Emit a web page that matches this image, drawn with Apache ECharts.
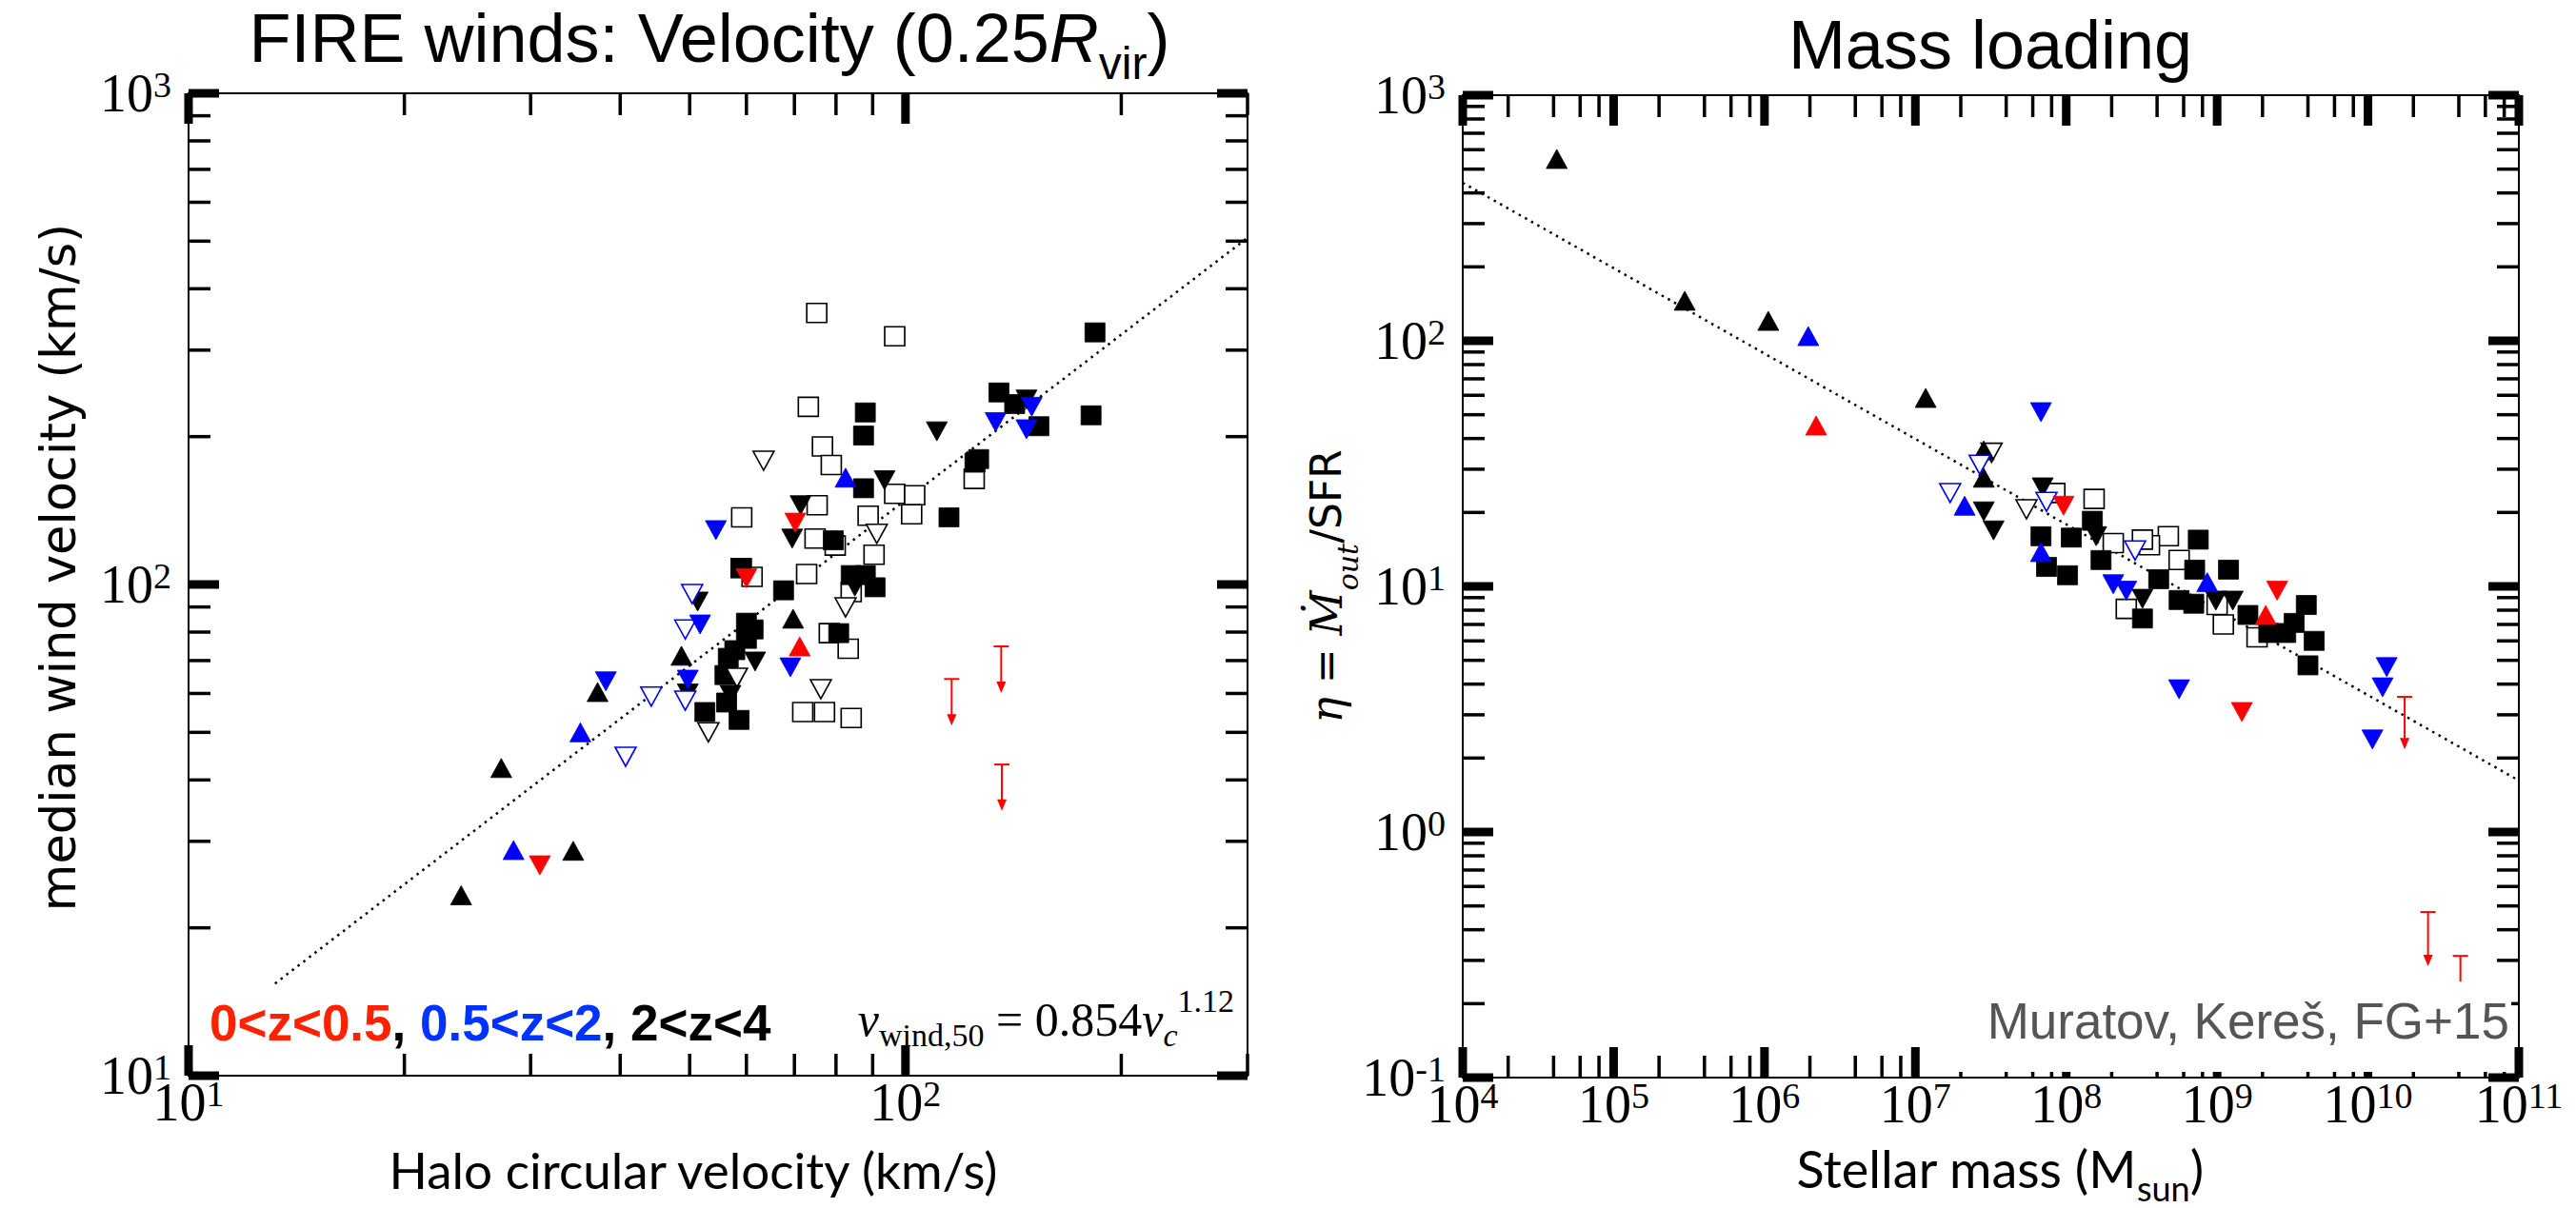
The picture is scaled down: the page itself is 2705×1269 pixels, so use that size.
<!DOCTYPE html>
<html><head><meta charset="utf-8">
<script src="https://cdn.jsdelivr.net/npm/echarts/dist/echarts.min.js"></script>
<style>html,body{margin:0;padding:0;background:#fff;overflow:hidden}#c{width:2705px;height:1269px}</style>
</head><body><div id="c"></div>
<script>
// ---------------- DATA ----------------
// Left panel: halo circular velocity (km/s) vs median wind velocity (km/s)
const velBlackSqOpen = [[75.2,357],[96.6,320],[73.2,230],[76.6,191],[78.8,175],[124.7,164],[96.6,153],[103,152],[75.3,145],[59.1,137],[88.7,138],[102,139],[74.8,124],[79.8,120],[90.4,115],[72.8,105],[59,108],[61.1,103.6],[84,96.5],[78.3,79.6],[83.2,74],[71.9,55],[77.1,55],[84,53.5]];
const velBlackSq = [[183.8,326],[181.5,221],[135,246],[142,233],[153.5,210],[87.9,224],[87.4,201],[126.5,180],[125,177],[87.4,157],[115,137],[79.3,123],[59,108],[67.6,97.3],[84,104.5],[87.9,104.5],[90.7,98.7],[60,83.6],[61.3,81],[60,77.5],[57.8,73.5],[56.6,70.9],[56,65.4],[56.3,57.5],[52.5,55],[58.6,53],[80.7,79.6]];
const velBlackDown = [[110.6,205],[93.5,163],[71.4,145],[69.5,124],[147.5,238],[61.7,69.7],[57,59.6],[51.3,92.3],[49.7,60],[85,99]];
const velBlackDownOpen = [[63.4,178.6],[91.2,126.8],[76.2,61.2],[53.1,50],[82.5,89.8],[58.2,64.6]];
const velBlackUp = [[69.7,85.2],[48.7,71.6],[37.2,60.4],[27.3,42.3],[34.4,28.7],[24,23.3]];
const velBlueDown = [[133.6,214],[150,230],[147.5,207],[54.4,129],[51.7,82.9],[69.1,67.8],[38.2,63.5],[49.7,64]];
const velBlueUp = [[82.5,165],[35.2,50],[28.4,28.8]];
const velBlueDownOpen = [[50.4,95.6],[49.3,81],[44.2,59.1],[49.3,58],[40.7,44.6]];
const velRedDown = [[70.2,133.6],[60,103],[30.9,26.8]];
const velRedUp = [[71.2,74.8]];
// upper limits: [x, top of bar, arrow tip, has arrow head]
const velRedLimits = [[116,64.2,51.6,1],[136,74.8,60.1,1],[136.3,43,34.6,1]];
// dotted fit v_wind,50 = 0.854 v_c^1.12 (end points)
const velFit = [[13.2,15.4],[300,508]];

// Right panel: stellar mass (Msun) vs mass loading eta
const mlBlackSqOpen = [[8.4e7,24],[1.53e8,22.7],[4.75e8,16],[3.56e8,14.7],[5.6e8,12.8],[2.05e8,15],[3.2e8,15.5],[1.1e9,7.0],[1.84e9,6.2],[2.5e8,8.1],[1.0e9,8.4]];
const mlBlackSq = [[6.8e7,16],[7.4e7,12],[1.02e8,11.1],[1.08e8,15.8],[1.49e8,18.5],[1.7e8,12.8],[4.1e8,10.7],[7.5e8,15.5],[7.1e8,11.7],[1.19e9,11.7],[3.2e8,7.4],[1.6e9,7.65],[2.2e9,6.46],[2.85e9,6.46],[3.24e9,7.1],[4.4e9,6.0],[3.9e9,8.4],[4.0e9,4.77],[5.6e8,8.8],[7e8,8.5]];
const mlBlackDown = [[2.84e7,20.2],[3.3e7,16.9],[6.98e7,25.3],[1.58e8,16],[3.2e8,8.9],[9.8e8,8.75],[1.27e9,8.75]];
const mlBlackDownOpen = [[3.2e7,35],[5.45e7,20.6]];
const mlBlackUp = [[4.2e4,550],[2.96e5,145.6],[1.06e6,120.5],[1.17e7,58.5],[2.84e7,35.8],[2.84e7,27.7]];
const mlBlueDown = [[6.8e7,51.2],[2.05e8,10.2],[2.5e8,9.6],[5.6e8,3.81],[1.33e10,4.69],[1.25e10,3.88],[1.07e10,2.38]];
const mlBlueUp = [[1.95e6,104.5],[2.12e7,21.3],[6.8e7,13.8],[8.6e8,10.4]];
const mlBlueDownOpen = [[2.67e7,31.3],[1.7e7,24],[7.4e7,22.1],[2.86e8,14]];
const mlRedDown = [[9.6e7,21.3],[2.5e9,9.6],[1.46e9,3.08]];
const mlRedUp = [[2.2e6,45.2],[2.1e9,7.65]];
const mlRedLimits = [[1.75e10,3.55,2.17,1],[2.5e10,0.472,0.284,1],[4.1e10,0.313,0.246,0]];
const mlFit = [[1e4,440],[1e11,1.62]];

// ---------------- TICKS / LABELS ----------------
const velXMajor = [10,100];
const velXMinor = [20,30,40,50,60,70,80,90,200,300];
const velYMajor = [10,100,1000];
const velYMinor = [20,30,40,50,60,70,80,90,200,300,400,500,600,700,800,900];
const velXLabels = [10,100];
const velYLabels = [10,100,1000];
const mlXMajor = [1e4,1e5,1e6,1e7,1e8,1e9,1e10,1e11];
const mlYMajor = [0.1,1,10,100,1000];
const mlXMinorSteps = [2,4,6,8];
const mlYMinorSteps = [2,3,4,5,6,7,8,9];
const mlXLabels = mlXMajor;
const mlYLabels = mlYMajor;
function minorsOf(decades, steps){ const out=[]; decades.slice(0,-1).forEach(d=>steps.forEach(k=>out.push(+(d*k).toPrecision(3)))); return out; }

const LEFT = {xMin:10, xMax:300, yMin:10, yMax:1000};
const RIGHT = {xMin:1e4, xMax:1e11, yMin:0.1, yMax:1000};

const RED = '#ff0000', BLUE = '#0000ff', BLACK = '#000000';

function powLabel(v){ const e = Math.round(Math.log10(v)); return '{b|10}{s|' + e + '}'; }
const labRich = {
  b:{fontFamily:'Liberation Serif', fontSize:56, lineHeight:56, padding:[16,0,0,0], verticalAlign:'bottom', color:'#000'},
  s:{fontFamily:'Liberation Serif', fontSize:38, lineHeight:38, verticalAlign:'top', color:'#000'}
};
function axisCfg(g, min, max, labels, margin){
  return {gridIndex:g, type:'log', logBase:10, min, max,
    axisLine:{show:false}, axisTick:{show:false}, splitLine:{show:false}, minorTick:{show:false},
    axisLabel:{customValues:labels, formatter:powLabel, rich:labRich, margin, showMinLabel:true, showMaxLabel:true, hideOverlap:false}};
}
function tickItems(major, minor){ return major.map(v=>[v,2]).concat(minor.map(v=>[v,1])); }
function xTickSeries(g, major, minor, yRef){
  return {type:'custom', xAxisIndex:g, yAxisIndex:g, silent:true, z:5, animation:false,
    data:tickItems(major, minor), encode:{x:0, y:1},
    renderItem(params, api){
      const v = api.value(0), big = api.value(1) === 2, cs = params.coordSys;
      const px = api.coord([v, yRef])[0];
      const L = big ? 32 : 23, W = big ? 9 : 3.5, st = {stroke:'#000', lineWidth:W};
      return {type:'group', children:[
        {type:'line', shape:{x1:px, y1:cs.y+cs.height, x2:px, y2:cs.y+cs.height-L}, style:st},
        {type:'line', shape:{x1:px, y1:cs.y, x2:px, y2:cs.y+L}, style:st}]};
    }};
}
function yTickSeries(g, major, minor, xRef){
  return {type:'custom', xAxisIndex:g, yAxisIndex:g, silent:true, z:5, animation:false,
    data:tickItems(major, minor), encode:{x:1, y:0},
    renderItem(params, api){
      const v = api.value(0), big = api.value(1) === 2, cs = params.coordSys;
      const py = api.coord([xRef, v])[1];
      const L = big ? 32 : 23, W = big ? 9 : 3.5, st = {stroke:'#000', lineWidth:W};
      return {type:'group', children:[
        {type:'line', shape:{x1:cs.x, y1:py, x2:cs.x+L, y2:py}, style:st},
        {type:'line', shape:{x1:cs.x+cs.width, y1:py, x2:cs.x+cs.width-L, y2:py}, style:st}]};
    }};
}
function limitSeries(g, data){
  return {type:'custom', xAxisIndex:g, yAxisIndex:g, silent:true, z:6, animation:false, data, encode:{x:0, y:1},
    renderItem(params, api){
      const x = api.value(0), top = api.value(1), bot = api.value(2), head = api.value(3) === 1;
      const p1 = api.coord([x, top]), p2 = api.coord([x, bot]);
      const st = {stroke:RED, lineWidth:2};
      const ch = [
        {type:'line', shape:{x1:p1[0]-8, y1:p1[1], x2:p1[0]+8, y2:p1[1]}, style:st},
        {type:'line', shape:{x1:p1[0], y1:p1[1], x2:p2[0], y2:p2[1]-(head?8:0)}, style:st}];
      if (head) ch.push({type:'polygon', shape:{points:[[p2[0]-5,p2[1]-12],[p2[0]+5,p2[1]-12],[p2[0],p2[1]]]}, style:{fill:RED}});
      return {type:'group', children:ch};
    }};
}
function pts(g, data, shape, color, open, down, z){
  return {type:'scatter', xAxisIndex:g, yAxisIndex:g, data, silent:true, animation:false, z,
    symbol: shape === 'sq' ? 'rect' : 'triangle',
    symbolSize: shape === 'sq' ? [21,20] : [22,20],
    symbolRotate: down ? 180 : 0,
    itemStyle: open ? {color:'#fff', borderColor:color, borderWidth:1.6, opacity:1}
                    : {color, borderColor:color, borderWidth:0.8, opacity:1}};
}
function fitLine(g, data){
  return {type:'line', xAxisIndex:g, yAxisIndex:g, data, symbol:'none', silent:true, animation:false, z:2,
    lineStyle:{color:'#000', width:2.5, type:[2.5,5]}};
}

const chart = echarts.init(document.getElementById('c'), null, {renderer:'svg', width:2705, height:1269});

const graphic = [
  {type:'text', x:745, y:4, z:100, style:{text:'{n|FIRE winds: Velocity (0.25}{i|R}{s|vir}{n|)}', align:'center', verticalAlign:'top',
    rich:{n:{fontFamily:'Liberation Sans', fontSize:72, lineHeight:86, verticalAlign:'top', fill:'#000'},
          i:{fontFamily:'Liberation Sans', fontStyle:'italic', fontSize:72, lineHeight:86, verticalAlign:'top', fill:'#000'},
          s:{fontFamily:'Liberation Sans', fontSize:48, lineHeight:48, verticalAlign:'bottom', fill:'#000'}}}},
  {type:'text', x:2090, y:4, z:100, style:{text:'Mass loading', align:'center', verticalAlign:'top',
    font:'72px "Liberation Sans"', lineHeight:86, fill:'#000'}},
  {type:'text', x:61, y:596, rotation:Math.PI/2, z:100, style:{text:'median wind velocity (km/s)', align:'center', verticalAlign:'middle',
    font:'51px "DejaVu Sans"', fill:'#000'}},
  {type:'text', x:728, y:1228, z:100, style:{text:'Halo circular velocity (km/s)', align:'center', verticalAlign:'middle',
    font:'53px Lato', fill:'#000'}},
  {type:'text', x:2100, y:1200, z:100, style:{text:'{n|Stellar mass (M}{s|sun}{n|)}', align:'center', verticalAlign:'top',
    rich:{n:{fontFamily:'Lato', fontSize:54, lineHeight:66, verticalAlign:'top', fill:'#000'},
          s:{fontFamily:'Lato', fontSize:36, lineHeight:36, verticalAlign:'bottom', fill:'#000'}}}},
  {type:'text', x:1400, y:616, rotation:Math.PI/2, z:100, style:{text:'{m|η}{n| = }{m|Ṁ}{ms|out}{n|/SFR}', align:'center', verticalAlign:'middle',
    rich:{m:{fontFamily:'DejaVu Serif', fontStyle:'italic', fontSize:46, lineHeight:60, verticalAlign:'top', fill:'#000'},
          n:{fontFamily:'DejaVu Sans', fontSize:44, lineHeight:60, verticalAlign:'top', fill:'#000'},
          ms:{fontFamily:'DejaVu Serif', fontStyle:'italic', fontSize:30, lineHeight:30, verticalAlign:'bottom', fill:'#000'}}}},
  {type:'text', x:220, y:1101, z:100, style:{text:'{r|0<z<0.5}{k|, }{b|0.5<z<2}{k|, 2<z<4}', align:'left', verticalAlign:'bottom',
    rich:{r:{fontFamily:'Liberation Sans', fontWeight:'bold', fontSize:53, fill:'#ff2200'},
          b:{fontFamily:'Liberation Sans', fontWeight:'bold', fontSize:53, fill:'#0033ff'},
          k:{fontFamily:'Liberation Sans', fontWeight:'bold', fontSize:53, fill:'#000'}}}},
  {type:'text', x:1296, y:1104, z:100, style:{text:'{i|v}{sb|wind,50}{n| = 0.854}{i|v}{si|c}{sp|1.12}', align:'right', verticalAlign:'bottom',
    rich:{i:{fontFamily:'Liberation Serif', fontStyle:'italic', fontSize:50, lineHeight:70, verticalAlign:'top', padding:[12,0,0,0], fill:'#000'},
          n:{fontFamily:'Liberation Serif', fontSize:50, lineHeight:70, verticalAlign:'top', padding:[12,0,0,0], fill:'#000'},
          sb:{fontFamily:'Liberation Serif', fontSize:34, lineHeight:34, verticalAlign:'bottom', fill:'#000'},
          si:{fontFamily:'Liberation Serif', fontStyle:'italic', fontSize:34, lineHeight:34, verticalAlign:'bottom', fill:'#000'},
          sp:{fontFamily:'Liberation Serif', fontSize:34, lineHeight:34, verticalAlign:'top', fill:'#000'}}}},
  {type:'rect', z:90, shape:{x:2045, y:1042, width:592, height:84}, style:{fill:'#fff'}},
  {type:'text', x:2635, y:1099, z:100, style:{text:'Muratov, Kereš, FG+15', align:'right', verticalAlign:'bottom',
    font:'53px "Liberation Sans"', fill:'#555555'}}
];

chart.setOption({
  animation:false,
  backgroundColor:'#fff',
  grid:[
    {left:198, top:98, width:1112, height:1032, show:true, borderColor:'#000', borderWidth:2, backgroundColor:'transparent'},
    {left:1536, top:100, width:1109, height:1032, show:true, borderColor:'#000', borderWidth:2, backgroundColor:'transparent'}
  ],
  xAxis:[axisCfg(0, LEFT.xMin, LEFT.xMax, velXLabels, 0), axisCfg(1, RIGHT.xMin, RIGHT.xMax, mlXLabels, 0)],
  yAxis:[axisCfg(0, LEFT.yMin, LEFT.yMax, velYLabels, 18), axisCfg(1, RIGHT.yMin, RIGHT.yMax, mlYLabels, 18)],
  graphic,
  series:[
    fitLine(0, velFit),
    xTickSeries(0, velXMajor, velXMinor, LEFT.yMin),
    yTickSeries(0, velYMajor, velYMinor, LEFT.xMin),
    pts(0, velBlackSqOpen, 'sq', BLACK, true, false, 3),
    pts(0, velBlackSq, 'sq', BLACK, false, false, 3),
    pts(0, velBlackDownOpen, 'tri', BLACK, true, true, 4),
    pts(0, velBlackDown, 'tri', BLACK, false, true, 4),
    pts(0, velBlackUp, 'tri', BLACK, false, false, 4),
    pts(0, velBlueDownOpen, 'tri', BLUE, true, true, 4),
    pts(0, velBlueDown, 'tri', BLUE, false, true, 4),
    pts(0, velBlueUp, 'tri', BLUE, false, false, 4),
    pts(0, velRedDown, 'tri', RED, false, true, 4),
    pts(0, velRedUp, 'tri', RED, false, false, 4),
    limitSeries(0, velRedLimits),

    fitLine(1, mlFit),
    xTickSeries(1, mlXMajor, minorsOf(mlXMajor, mlXMinorSteps), RIGHT.yMin),
    yTickSeries(1, mlYMajor, minorsOf(mlYMajor, mlYMinorSteps), RIGHT.xMin),
    pts(1, mlBlackSqOpen, 'sq', BLACK, true, false, 3),
    pts(1, mlBlackSq, 'sq', BLACK, false, false, 3),
    pts(1, mlBlackDownOpen, 'tri', BLACK, true, true, 4),
    pts(1, mlBlackDown, 'tri', BLACK, false, true, 4),
    pts(1, mlBlackUp, 'tri', BLACK, false, false, 4),
    pts(1, mlBlueDownOpen, 'tri', BLUE, true, true, 4),
    pts(1, mlBlueDown, 'tri', BLUE, false, true, 4),
    pts(1, mlBlueUp, 'tri', BLUE, false, false, 4),
    pts(1, mlRedDown, 'tri', RED, false, true, 4),
    pts(1, mlRedUp, 'tri', RED, false, false, 4),
    limitSeries(1, mlRedLimits)
  ]
});
</script></body></html>
